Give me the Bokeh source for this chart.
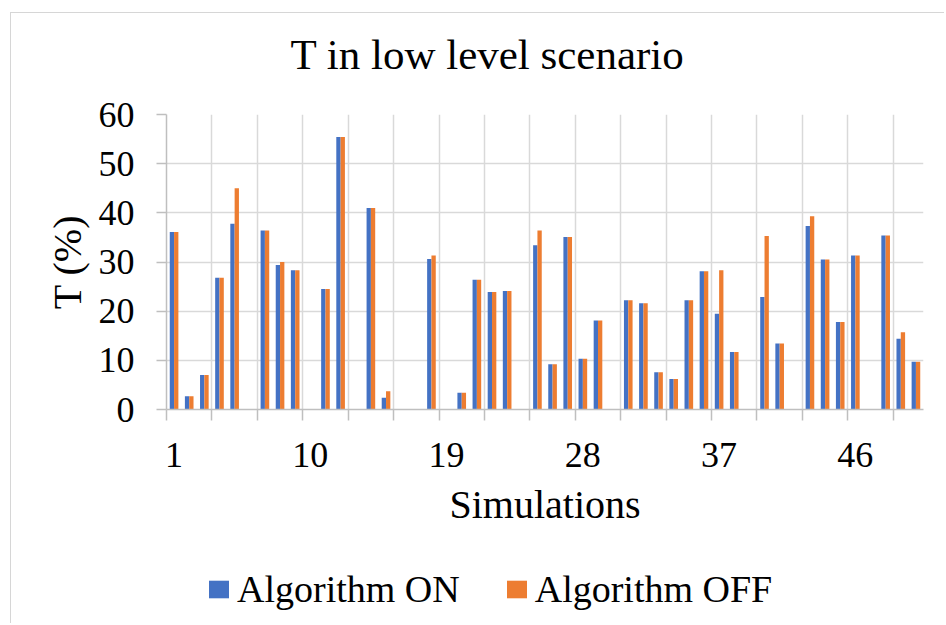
from bokeh.plotting import figure
from bokeh.layouts import column
from bokeh.models import ColumnDataSource, Range1d, FixedTicker, Legend, LegendItem, Title
from bokeh.transform import dodge
from bokeh.embed import file_html
from bokeh.resources import INLINE

# ---- data ----
simulations = list(range(1, 51))
algorithm_on = [36.1, 2.7, 7.0, 26.8, 37.8, 0, 36.4, 29.4, 28.3, 0,
                24.5, 55.4, 0, 41.0, 2.4, 0, 0, 30.6, 0, 3.4,
                26.4, 23.9, 24.1, 0, 33.4, 9.2, 35.1, 10.3, 18.1, 0,
                22.2, 21.6, 7.6, 6.2, 22.2, 28.1, 19.5, 11.7, 0, 22.9,
                13.4, 0, 37.3, 30.5, 17.8, 31.3, 0, 35.4, 14.4, 9.7]
algorithm_off = [36.1, 2.7, 7.0, 26.8, 45.0, 0, 36.4, 30.0, 28.3, 0,
                 24.5, 55.4, 0, 41.0, 3.7, 0, 0, 31.3, 0, 3.4,
                 26.4, 23.9, 24.1, 0, 36.4, 9.2, 35.1, 10.3, 18.1, 0,
                 22.2, 21.6, 7.6, 6.2, 22.2, 28.1, 28.3, 11.7, 0, 35.3,
                 13.4, 0, 39.3, 30.5, 17.8, 31.3, 0, 35.4, 15.7, 9.7]
x_tick_labels = [1, 10, 19, 28, 37, 46]
y_ticks = [0, 10, 20, 30, 40, 50, 60]
series_names = ["Algorithm ON", "Algorithm OFF"]
chart_title = "T in low level scenario"

# ---- styling ----
FONT = "Liberation Serif"
BLUE = "#4472C4"
ORANGE = "#ED7D31"
GRID = "#d9d9d9"
AXIS = "#bfbfbf"
BAR_W = 0.285

n = len(simulations)
group_bounds = [0.5 + 3 * i for i in range((n + 2) // 3)]

source = ColumnDataSource(dict(sim=simulations, on=algorithm_on, off=algorithm_off))

p = figure(width=933, height=526, output_backend="svg", toolbar_location=None,
           title=None,
           x_range=Range1d(0.5, n + 0.5), y_range=Range1d(0, 60),
           min_border_left=155, min_border_right=21,
           min_border_top=101, min_border_bottom=130,
           background_fill_color="white", border_fill_color="white")
p.outline_line_color = None

p.vbar(x=dodge("sim", -BAR_W / 2, range=p.x_range), top="on", width=BAR_W,
       source=source, fill_color=BLUE, line_color=None)
p.vbar(x=dodge("sim", BAR_W / 2, range=p.x_range), top="off", width=BAR_W,
       source=source, fill_color=ORANGE, line_color=None)

# title: a thin spacer next to the frame, then the real title above it
p.add_layout(Title(text=" ", text_font_size="2px", standoff=28), "above")
p.add_layout(Title(text=chart_title, text_font=FONT, text_font_size="43px",
                   text_font_style="normal", text_color="black",
                   align="left", offset=124, standoff=10), "above")

# x axis
xa = p.xaxis[0]
xa.ticker = FixedTicker(ticks=x_tick_labels, minor_ticks=group_bounds)
xa.major_tick_out = 0
xa.major_tick_in = 0
xa.minor_tick_out = 11
xa.minor_tick_in = 0
xa.minor_tick_line_color = AXIS
xa.minor_tick_line_width = 1.5
xa.axis_line_color = AXIS
xa.axis_line_width = 1.5
xa.major_label_text_font = FONT
xa.major_label_text_font_size = "36px"
xa.major_label_text_color = "black"
xa.major_label_standoff = 22
xa.axis_label = "Simulations"
xa.axis_label_text_font = FONT
xa.axis_label_text_font_size = "40px"
xa.axis_label_text_font_style = "normal"
xa.axis_label_text_color = "black"
xa.axis_label_standoff = 12

# y axis
ya = p.yaxis[0]
ya.ticker = FixedTicker(ticks=y_ticks)
ya.major_tick_out = 10
ya.major_tick_in = 0
ya.minor_tick_out = 0
ya.minor_tick_in = 0
ya.major_tick_line_color = AXIS
ya.major_tick_line_width = 1.5
ya.axis_line_color = AXIS
ya.axis_line_width = 1.5
ya.major_label_text_font = FONT
ya.major_label_text_font_size = "36px"
ya.major_label_text_color = "black"
ya.major_label_standoff = 22
ya.axis_label = "T (%)"
ya.axis_label_text_font = FONT
ya.axis_label_text_font_size = "40px"
ya.axis_label_text_font_style = "normal"
ya.axis_label_text_color = "black"
ya.axis_label_standoff = 6

# grids
p.xgrid.grid_line_color = None
p.xgrid.minor_grid_line_color = GRID
p.xgrid.minor_grid_line_width = 1.5
p.ygrid.grid_line_color = GRID
p.ygrid.grid_line_width = 1.5

# legend strip below the chart (its key glyphs use the same series, kept out of view)
lg = figure(width=933, height=84, output_backend="svg", toolbar_location=None,
            x_range=Range1d(1000, 1001), y_range=Range1d(1000, 1001), min_border=0,
            x_axis_location=None, y_axis_location=None,
            background_fill_color="white", border_fill_color="white")
lg.outline_line_color = None
lg.grid.visible = False
k_on = lg.rect(x="sim", y="on", width=BAR_W, height=1, source=source,
               fill_color=BLUE, line_color=None)
k_off = lg.rect(x="sim", y="off", width=BAR_W, height=1, source=source,
                fill_color=ORANGE, line_color=None)
legend = Legend(items=[LegendItem(label=series_names[0], renderers=[k_on]),
                       LegendItem(label=series_names[1], renderers=[k_off])],
                orientation="horizontal", location=(40, 12),
                label_text_font=FONT, label_text_font_size="38px", label_text_color="black",
                glyph_width=25, glyph_height=22, label_standoff=6, spacing=44,
                padding=0, margin=0, border_line_color=None, background_fill_alpha=0)
lg.add_layout(legend, "center")

layout = column(p, lg, spacing=0, margin=(12, 0, 0, 10),
                styles={"border-left": "1px solid #d6d6d6", "border-top": "1px solid #d6d6d6"})

open("out.html", "w").write(file_html(layout, INLINE))
